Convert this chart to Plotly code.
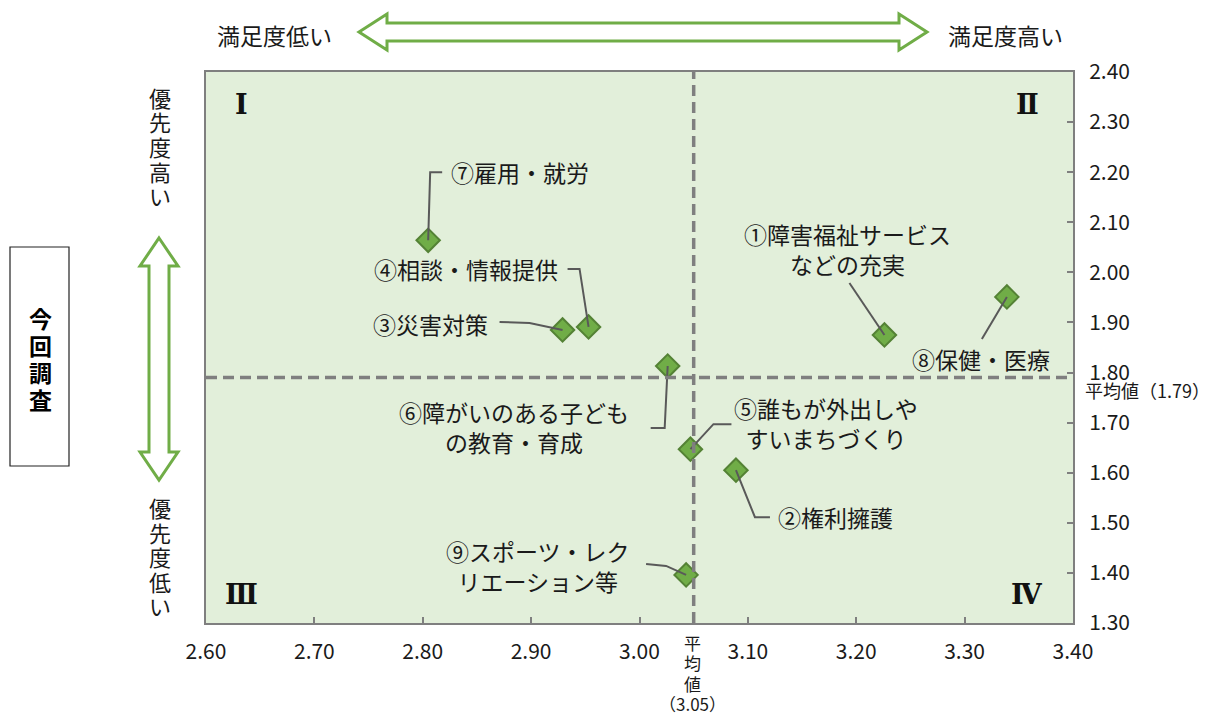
import plotly.graph_objects as go

# 満足度 (x) と 優先度 (y) の散布図
labels = [
    "①障害福祉サービス<br>などの充実",
    "②権利擁護",
    "③災害対策",
    "④相談・情報提供",
    "⑤誰もが外出しや<br>すいまちづくり",
    "⑥障がいのある子ども<br>の教育・育成",
    "⑦雇用・就労",
    "⑧保健・医療",
    "⑨スポーツ・レク<br>リエーション等",
]
satisfaction = [3.226, 3.089, 2.929, 2.953, 3.047, 3.026, 2.805, 3.339, 3.043]
priority = [1.875, 1.605, 1.885, 1.891, 1.647, 1.813, 2.064, 1.951, 1.396]
avg_satisfaction = 3.05
avg_priority = 1.79

x_ticks = [2.6, 2.7, 2.8, 2.9, 3.0, 3.1, 3.2, 3.3, 3.4]
x_ticktext = ["2.60", "2.70", "2.80", "2.90", "3.00", "3.10", "3.20", "3.30", "3.40"]
y_ticks = [1.3, 1.4, 1.5, 1.6, 1.7, 1.8, 1.9, 2.0, 2.1, 2.2, 2.3, 2.4]
y_ticktext = ["1.30", "1.40", "1.50", "1.60", "1.70", "1.80",
              "1.90", "2.00", "2.10", "2.20", "2.30", "2.40"]
quadrants = ["Ⅰ", "Ⅱ", "Ⅲ", "Ⅳ"]

FONT = "Noto Sans CJK JP"
GREEN = "#70AD47"
GRAY = "#7f7f7f"
TXT = "#1a1a1a"

# page is 1224x716, the html body adds an 8px margin
OFF = 8
W, H = 1224 - OFF, 716 - OFF
# plot area in page pixels
L, T, PW, PH = 206, 72, 867, 551
XR, YR = (2.6, 3.4), (1.3, 2.4)
sx = PW / (XR[1] - XR[0])
sy = PH / (YR[1] - YR[0])


def px(x):
    return (x - L) / PW


def py(y):
    return (T + PH - y) / PH


def note(x, y, text, size, family=FONT, color=TXT, **kw):
    fig.add_annotation(x=px(x), y=py(y), xref="paper", yref="paper", text=text,
                       showarrow=False, xanchor=kw.pop("xanchor", "center"),
                       yanchor=kw.pop("yanchor", "middle"),
                       font=dict(family=family, size=size, color=color), **kw)


# label placement: text offset (px), anchor, leader path offsets (px)
placement = [
    (-37, -86, "center", [(0, 0), (-35, -52)]),
    (40, 47, "left", [(0, 0), (19, 47), (34, 47)]),
    (-73, -6, "right", [(0, 0), (-33, -7), (-63, -8)]),
    (-29, -58, "right", [(0, 0), (-9, -58), (-21, -58)]),
    (136, -26, "center", [(0, 0), (23, -25), (41, -25)]),
    (-154, 61, "center", [(0, 0), (-3, 62), (-17, 62)]),
    (21, -68, "left", [(0, 0), (2, -68), (14, -68)]),
    (-26, 62, "center", [(0, 0), (-25, 42)]),
    (-148, -9, "center", [(0, 0), (-20, -9), (-40, -11)]),
]

fig = go.Figure()

fig.add_trace(go.Scatter(
    x=satisfaction, y=priority, mode="markers",
    marker=dict(symbol="diamond", size=18, color=GREEN,
                line=dict(color="#548235", width=2)),
    hovertext=labels, showlegend=False,
))

for i, (dx, dy, anchor, path) in enumerate(placement):
    fig.add_trace(go.Scatter(
        x=[satisfaction[i] + ox / sx for ox, oy in path],
        y=[priority[i] - oy / sy for ox, oy in path],
        mode="lines", line=dict(color="#595959", width=2),
        hoverinfo="skip", showlegend=False,
    ))
    fig.add_annotation(
        x=satisfaction[i], y=priority[i], text=labels[i], showarrow=False,
        xshift=dx, yshift=-dy, xanchor=anchor, yanchor="middle",
        font=dict(family=FONT, size=23, color=TXT),
    )

# average lines
fig.add_hline(y=avg_priority, line=dict(color=GRAY, width=3.5, dash="11px,6px"))
fig.add_vline(x=avg_satisfaction, line=dict(color=GRAY, width=3.5, dash="11px,6px"))

note(1083, 390, f"平均値（{avg_priority:.2f}）", 18, xanchor="left")
for j, ch in enumerate(["平", "均", "値", f"（{avg_satisfaction:.2f}）"]):
    note(692, 642 + 20.5 * j, ch, 17)

# quadrant numerals
for q, (qx, qy) in zip(quadrants, [(241, 105), (1027, 105), (241, 594), (1027, 594)]):
    note(qx, qy, f"<b>{q}</b>", 27, family="DejaVu Serif", color="#111")

# top labels and horizontal double arrow
note(274, 35, "満足度低い", 23)
note(1005, 35, "満足度高い", 23)


def harrow(x0, x1, yc, hl, hh, sh):
    pts = [(x0, yc), (x0 + hl, yc - hh), (x0 + hl, yc - sh), (x1 - hl, yc - sh),
           (x1 - hl, yc - hh), (x1, yc), (x1 - hl, yc + hh), (x1 - hl, yc + sh),
           (x0 + hl, yc + sh), (x0 + hl, yc + hh)]
    return "M " + " L ".join(f"{px(a):.5f},{py(b):.5f}" for a, b in pts) + " Z"


def varrow(y0, y1, xc, hl, hh, sh):
    pts = [(xc, y0), (xc + hh, y0 + hl), (xc + sh, y0 + hl), (xc + sh, y1 - hl),
           (xc + hh, y1 - hl), (xc, y1), (xc - hh, y1 - hl), (xc - sh, y1 - hl),
           (xc - sh, y0 + hl), (xc - hh, y0 + hl)]
    return "M " + " L ".join(f"{px(a):.5f},{py(b):.5f}" for a, b in pts) + " Z"


fig.add_shape(type="path", xref="paper", yref="paper", path=harrow(359, 927, 32, 28, 18, 9),
              line=dict(color=GREEN, width=3), fillcolor="white")
fig.add_shape(type="path", xref="paper", yref="paper", path=varrow(238, 480, 159, 28, 19, 10),
              line=dict(color=GREEN, width=3), fillcolor="white")

# vertical side labels
for j, ch in enumerate("優先度高い"):
    note(160, 97 + 24.5 * j, ch, 22)
for j, ch in enumerate("優先度低い"):
    note(160, 507 + 24.5 * j, ch, 22)

fig.add_shape(type="rect", xref="paper", yref="paper",
              x0=px(10), x1=px(69), y0=py(247), y1=py(466),
              line=dict(color="#222", width=1.2), fillcolor="white")
for j, ch in enumerate("今回調査"):
    note(40, 318 + 27 * j, f"<b>{ch}</b>", 23, color="#000")

fig.update_xaxes(
    range=list(XR), tickvals=x_ticks, ticktext=x_ticktext,
    ticks="inside", ticklen=6, tickwidth=2, tickcolor=GRAY,
    showline=True, linecolor=GRAY, linewidth=2, mirror=True,
    showgrid=False, zeroline=False, ticklabelstandoff=9,
    tickfont=dict(family=FONT, size=21, color=TXT),
)
fig.update_yaxes(
    range=list(YR), tickvals=y_ticks, ticktext=y_ticktext, side="right",
    ticks="inside", ticklen=6, tickwidth=2, tickcolor=GRAY,
    showline=True, linecolor=GRAY, linewidth=2, mirror=True,
    showgrid=False, zeroline=False, ticklabelstandoff=10,
    tickfont=dict(family=FONT, size=21, color=TXT),
)
fig.update_layout(
    width=W, height=H,
    margin=dict(l=L - OFF, r=W - (L - OFF) - PW, t=T - OFF, b=H - (T - OFF) - PH,
                autoexpand=False),
    plot_bgcolor="#E2EFDA", paper_bgcolor="white",
    showlegend=False,
)

fig.write_html("out.html")
